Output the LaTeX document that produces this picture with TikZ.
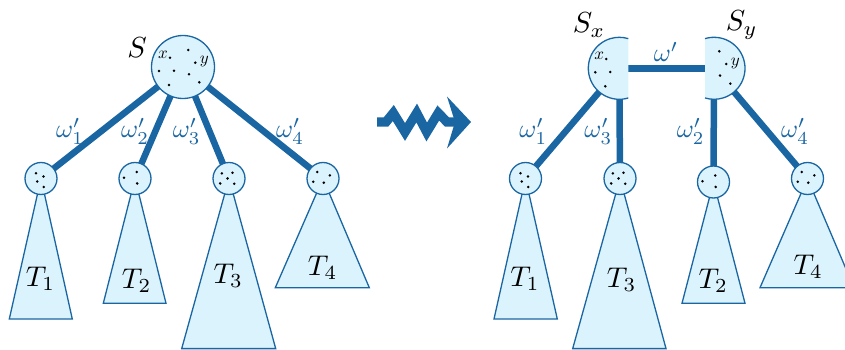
\documentclass[tikz,border=0pt]{standalone}
\usepackage{amsmath}
\definecolor{eb}{RGB}{26,102,163}
\definecolor{fl}{RGB}{219,243,252}
\tikzset{
 edge/.style={draw=eb, line width=6.5pt},
 vert/.style={circle, draw=eb, fill=fl, line width=1.3pt, minimum size=32pt, inner sep=0pt},
 bigv/.style={circle, draw=eb, fill=fl, line width=1.3pt, minimum size=63pt, inner sep=0pt},
 tri/.style={draw=eb, fill=fl, line width=1.3pt, line join=miter},
 wl/.style={text=eb, inner sep=0pt, scale=2.6},
 tl/.style={inner sep=0pt, scale=2.85},
 sl/.style={inner sep=0pt, scale=2.9},
 xl/.style={inner sep=0pt, scale=1.7},
}
\begin{document}
\begin{tikzpicture}[x=1pt,y=-1pt]
\path[use as bounding box] (0,0) rectangle (845,350);
\clip (0,0) rectangle (845,350);
% centres
\coordinate (S) at (183,67);
\coordinate (c1) at (41,178.5);
\coordinate (c2) at (135,178.5);
\coordinate (c3) at (229,178.5);
\coordinate (c4) at (323,178.5);
\coordinate (Sx) at (619.3,68.3);
\coordinate (Sy) at (714,68.3);
\coordinate (Sxr) at (628.3,68.3);
\coordinate (Syl) at (705,68.3);
\coordinate (d1) at (525.5,178.5);
\coordinate (d3) at (620,178.5);
\coordinate (d2) at (713.5,182);
\coordinate (d4) at (807.5,178.5);
% triangles left
\draw[tri] (c1) -- (9.3,319) -- (72.3,319) -- cycle;
\draw[tri] (c2) -- (103.3,303.3) -- (166,303.3) -- cycle;
\draw[tri] (c3) -- (181.7,348.6) -- (275.7,348.6) -- cycle;
\draw[tri] (c4) -- (275.3,287.7) -- (369.3,287.7) -- cycle;
% triangles right
\draw[tri] (d1) -- (494,319) -- (557.3,319) -- cycle;
\draw[tri] (d3) -- (572.7,348.6) -- (666,348.6) -- cycle;
\draw[tri] (d2) -- (682,303.3) -- (745,303.3) -- cycle;
\draw[tri] (d4) -- (760,287.7) -- (854,287.7) -- cycle;
% edges
\draw[edge] (S) -- (c1);
\draw[edge] (S) -- (c2);
\draw[edge] (S) -- (c3);
\draw[edge] (S) -- (c4);
\draw[edge] (Sx) -- (d1);
\draw[edge] (Sx) -- (d3);
\draw[edge] (Sy) -- (d2);
\draw[edge] (Sy) -- (d4);
\draw[edge] (Sxr) -- (Syl);
% vertices
\node[bigv] (nS) at (S) {};
\foreach \n in {c1,c2,c3,c4,d1,d2,d3,d4} \node[vert] (n\n) at (\n) {};
% half circles
\fill[fl] (Sx) ++(73.1:31) arc[start angle=73.1, end angle=286.9, radius=31] -- cycle;
\draw[eb, line width=1.3pt] (Sx) ++(73.1:31) arc[start angle=73.1, end angle=286.9, radius=31];
\fill[fl] (Sy) ++(-106.9:31) arc[start angle=-106.9, end angle=106.9, radius=31] -- cycle;
\draw[eb, line width=1.3pt] (Sy) ++(-106.9:31) arc[start angle=-106.9, end angle=106.9, radius=31];
% dots in S
\foreach \dx/\dy in {-13/-9.3, 5.3/-17, 12.3/-4.3, -24/4, -9/3.7, 6/7.3, 16.3/15.3, -14/18}
  \fill ([shift={(\dx,\dy)}]S) circle (1.4pt);
\node[xl] (xS) at ([shift={(-20,-12)}]S) {$x$};
\node[xl] (yS) at ([shift={(21.3,-5.3)}]S) {$y$};
\foreach \dx/\dy in {-13/-9.3, -24/4, -9/3.7, -14/18}
  \fill ([shift={(\dx,\dy)}]Sx) circle (1.4pt);
\node[xl] (xSx) at ([shift={(-20,-12)}]Sx) {$x$};
\foreach \dx/\dy in {5.3/-17, 12.3/-4.3, 6/7.3, 16.3/15.3}
  \fill ([shift={(\dx,\dy)}]Sy) circle (1.4pt);
\node[xl] (ySy) at ([shift={(21.3,-5.3)}]Sy) {$y$};
% dots in children
\foreach \c in {c1,d1}
 \foreach \dx/\dy in {-5/-5.3, 2.5/-2, -3.8/3, 2.8/8.5}
  \fill ([shift={(\dx,\dy)}]\c) circle (1.4pt);
\foreach \c in {c2,d2}
 \foreach \dx/\dy in {-11/-0.8, 1.8/-6.5, 2.2/4.9}
  \fill ([shift={(\dx,\dy)}]\c) circle (1.4pt);
\foreach \c in {c3,d3}
 \foreach \dx/\dy in {-7.2/-5.1, 3.5/-5.8, -1.5/-0.1, -8.8/4.9, 5.2/5.2}
  \fill ([shift={(\dx,\dy)}]\c) circle (1.4pt);
\foreach \c in {c4,d4}
 \foreach \dx/\dy in {-5.8/-6.5, 6.8/-3.1, -9.8/3.2, 0.8/4.2}
  \fill ([shift={(\dx,\dy)}]\c) circle (1.4pt);
% labels
\node[sl] (lS) at (137,48) {$S$};
\node[sl] (lSx) at (589,25) {$S_x$};
\node[sl] (lSy) at (741.7,25) {$S_y$};
\node[tl] (t1) at (40.5,278.5) {$T_1$};
\node[tl] (t2) at (136.7,280.5) {$T_2$};
\node[tl] (t3) at (228.3,276) {$T_3$};
\node[tl] (t4) at (322.7,267.5) {$T_4$};
\node[tl] (u1) at (525,278.5) {$T_1$};
\node[tl] (u3) at (621.7,279.5) {$T_3$};
\node[tl] (u2) at (713.3,280.5) {$T_2$};
\node[tl] (u4) at (808.3,266.5) {$T_4$};
\node[wl] (w1) at (70,131) {$\omega'_1$};
\node[wl] (w2) at (135,131) {$\omega'_2$};
\node[wl] (w3) at (186.7,131) {$\omega'_3$};
\node[wl] (w4) at (290,131) {$\omega'_4$};
\node[wl] (v1) at (533.3,131) {$\omega'_1$};
\node[wl] (v3) at (598.3,131) {$\omega'_3$};
\node[wl] (v2) at (690.7,131) {$\omega'_2$};
\node[wl] (v4) at (795,131) {$\omega'_4$};
\node[wl] (w) at (666,51.7) {$\omega'$};
% zigzag arrow
\coordinate (a0) at (377,122);
\coordinate (a1) at (458,122);
\draw[eb, line width=9.3pt, line join=miter, miter limit=10] (a0) -- (386,122) -- (393.3,113) -- (405,132) -- (416.7,113) -- (426.7,132) -- (438.3,113) -- (447,122) -- (a1);
\fill[eb] (447,96.5) -- (471,122) -- (447,148.5) -- (455,122) -- cycle;
\end{tikzpicture}
\end{document}
